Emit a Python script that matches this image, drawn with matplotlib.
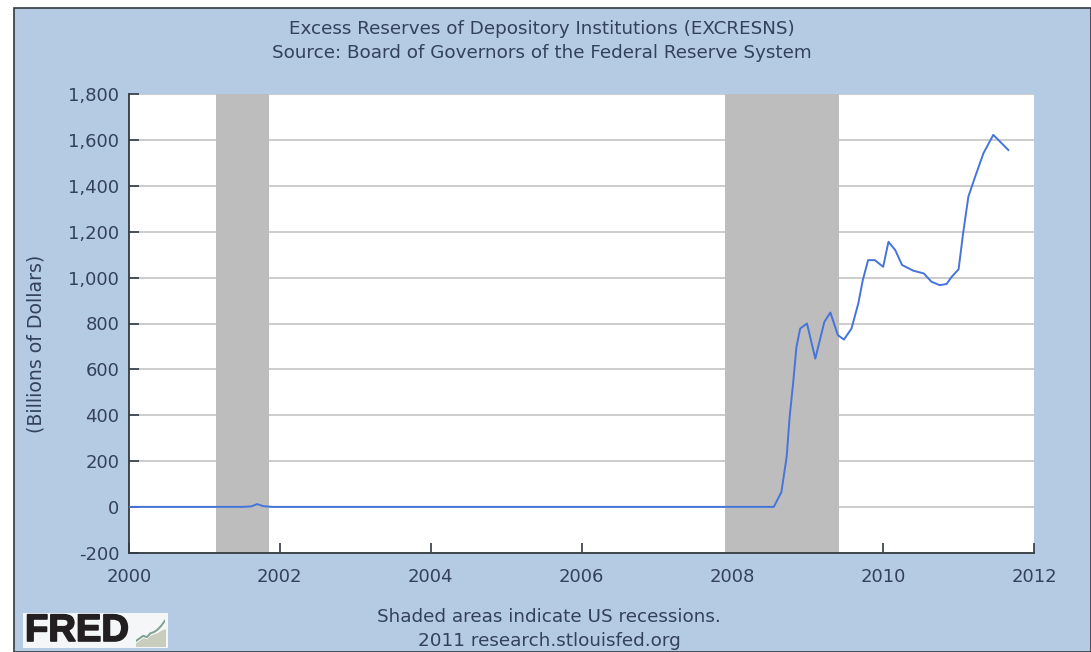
#!/usr/bin/env python
"""Recreate the FRED excess reserves chart."""

import matplotlib.patheffects as path_effects
import matplotlib.pyplot as plt
from matplotlib import patches

WIDTH = 1091
HEIGHT = 652

BACKGROUND = "#B5CBE3"
TEXT = "#33425A"
SPINE = "#333A42"
GRID = "#C4C4C4"
RECESSION = "#BDBDBD"
LINE = "#4574DA"

TITLE = "Excess Reserves of Depository Institutions (EXCRESNS)\nSource: Board of Governors of the Federal Reserve System"
FOOTER = "Shaded areas indicate US recessions.\n2011 research.stlouisfed.org"
YLABEL = "(Billions of Dollars)"

X_TICKS = [2000, 2002, 2004, 2006, 2008, 2010, 2012]
Y_TICKS = [-200, 0, 200, 400, 600, 800, 1000, 1200, 1400, 1600, 1800]

RECESSION_STARTS = [2001.16, 2007.9]
RECESSION_ENDS = [2001.85, 2009.42]

YEARS = [
    2000.0, 2001.5, 2001.62, 2001.7, 2001.78, 2001.9, 2008.55, 2008.65, 2008.72, 2008.76,
    2008.81, 2008.85, 2008.90, 2008.99, 2009.10, 2009.22, 2009.30, 2009.40, 2009.48, 2009.58,
    2009.67, 2009.73, 2009.80, 2009.89, 2010.00, 2010.07, 2010.16, 2010.25, 2010.40, 2010.54,
    2010.64, 2010.75, 2010.84, 2010.91, 2011.00, 2011.06, 2011.13, 2011.22, 2011.33, 2011.46,
    2011.66,
]
RESERVES = [
    1, 1, 3, 13, 4, 1, 1, 65, 218, 393,
    553, 698, 778, 800, 647, 807, 848, 749, 730, 778,
    887, 989, 1076, 1076, 1047, 1156, 1120, 1055, 1030, 1018,
    982, 967, 972, 1004, 1036, 1193, 1353, 1440, 1542, 1622,
    1556,
]

ICON_X = [0, 1, 2, 3, 4, 5, 6, 7, 8]
ICON_LOW = [0, 0, 0, 0, 0, 0, 0, 0, 0]
ICON_HIGH = [1, 2, 3, 2.5, 4, 4.5, 5, 6, 6.5]
ICON_LINE = [2, 3, 4, 3.5, 5, 5.5, 6.5, 8, 10]


def add_axes_px(fig, left, top, right, bottom):
    return fig.add_axes([left / WIDTH, 1 - bottom / HEIGHT, (right - left) / WIDTH, (bottom - top) / HEIGHT])


def draw_logo(fig):
    fig.patches.append(
        patches.Rectangle(
            (23 / WIDTH, 1 - 648 / HEIGHT), 145 / WIDTH, 35 / HEIGHT,
            transform=fig.transFigure, facecolor="#F4F6F8", edgecolor="none", zorder=-1,
        )
    )
    fig.text(25 / WIDTH, 1 - 631 / HEIGHT, "FRED", fontsize=27.5, fontweight="bold", color="#231F20",
             family="Liberation Sans", ha="left", va="center",
             path_effects=[path_effects.withStroke(linewidth=1.2, foreground="#231F20")])
    icon = add_axes_px(fig, 136, 618, 165, 646)
    icon.fill_between(ICON_X, ICON_LOW, ICON_HIGH, color="#C9CDBE")
    icon.plot(ICON_X, ICON_LINE, color="#7FA08F", lw=1.4)
    icon.set_xlim(0, 8)
    icon.set_ylim(0, 11)
    icon.axis("off")


def main():
    plt.rcParams["font.family"] = "DejaVu Sans"
    fig = plt.figure(figsize=(WIDTH / 100, HEIGHT / 100), dpi=100, facecolor="white")
    fig.patches.append(
        patches.Rectangle(
            (14 / WIDTH, 0), 1 - 14 / WIDTH, 1 - 8 / HEIGHT,
            transform=fig.transFigure, facecolor=BACKGROUND, edgecolor=SPINE, linewidth=1.2, zorder=-2,
        )
    )

    ax = add_axes_px(fig, 129, 94, 1034, 553)
    ax.set_xlim(X_TICKS[0], X_TICKS[-1])
    ax.set_ylim(Y_TICKS[0], Y_TICKS[-1])
    ax.set_facecolor("white")

    ax.grid(axis="y", color=GRID, linewidth=1.2, zorder=1)
    ax.set_axisbelow(True)
    for start, end in zip(RECESSION_STARTS, RECESSION_ENDS):
        ax.axvspan(start, end, color=RECESSION, lw=0, zorder=1.5)
    ax.plot(YEARS, RESERVES, color=LINE, linewidth=1.4, zorder=3)

    ax.set_xticks(X_TICKS)
    ax.set_yticks(Y_TICKS)
    ax.set_yticklabels([f"{v:,}" for v in Y_TICKS])
    ax.tick_params(axis="both", direction="in", length=7, width=1.2, color=SPINE,
                   labelsize=13, labelcolor=TEXT, pad=7)
    ax.tick_params(axis="x", pad=11)
    for name in ["top", "right"]:
        ax.spines[name].set_visible(False)
    for name in ["left", "bottom"]:
        ax.spines[name].set_color(SPINE)
        ax.spines[name].set_linewidth(1.3)

    fig.text(36 / WIDTH, 1 - 344 / HEIGHT, YLABEL, rotation=90, fontsize=13.6, color=TEXT, ha="center", va="center")
    fig.text(542 / WIDTH, 1 - 41 / HEIGHT, TITLE, fontsize=13.2, color=TEXT, ha="center", va="center", linespacing=1.4)
    fig.text(549 / WIDTH, 1 - 629 / HEIGHT, FOOTER, fontsize=13.2, color=TEXT, ha="center", va="center", linespacing=1.45)

    draw_logo(fig)

    fig.savefig("out.png", dpi=100, facecolor="white")
    plt.close(fig)


if __name__ == "__main__":
    main()
